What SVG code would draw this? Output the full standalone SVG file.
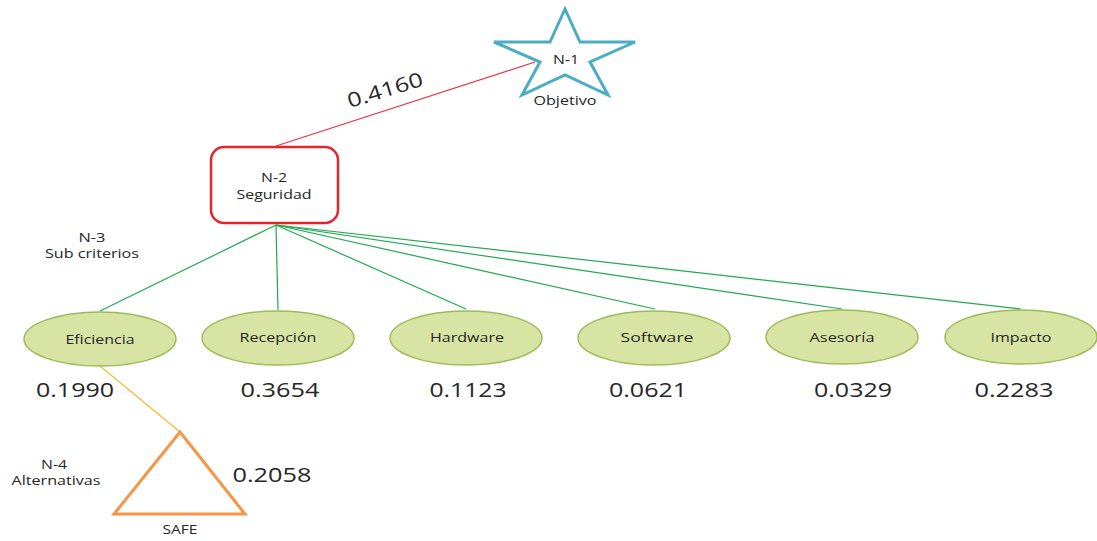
<svg xmlns="http://www.w3.org/2000/svg" width="1097" height="541" viewBox="0 0 1097 541">
<style>
text{font-family:"Open Sans","Liberation Sans",sans-serif;fill:#262626;text-anchor:middle}
.s{font-size:13px}
.w{font-size:20px}
.ell{fill:#d8e4a3;stroke:#9bbb59;stroke-width:1.5}
.g{stroke:#1faa50;stroke-width:1.2;fill:none}
</style>
<rect width="1097" height="541" fill="#fff"/>
<g id="connectors">
<line x1="535" y1="62" x2="276" y2="146" stroke="#f0303a" stroke-width="1.2"/>
<line class="g" x1="276" y1="225" x2="100" y2="311"/>
<line class="g" x1="276" y1="225" x2="278" y2="310"/>
<line class="g" x1="276" y1="225" x2="466" y2="309"/>
<line class="g" x1="276" y1="225" x2="655" y2="309"/>
<line class="g" x1="276" y1="225" x2="842" y2="309"/>
<line class="g" x1="276" y1="225" x2="1021" y2="309"/>
<line x1="100" y1="366" x2="180" y2="432" stroke="#f7b733" stroke-width="1.2"/>
</g>
<g id="n1">
<polygon points="565,9 580,42 635,42 590,62 608,95 565,75 522,95 540,62 494,42 550,42" fill="#fff" stroke="#4bacc6" stroke-width="3" stroke-linejoin="miter"/>
<text class="s" x="566" y="64" textLength="26" lengthAdjust="spacingAndGlyphs">N-1</text>
<text class="s" x="565" y="105" textLength="63" lengthAdjust="spacingAndGlyphs">Objetivo</text>
</g>
<text class="w" x="385" y="97" transform="rotate(-17 385 90)" textLength="78" lengthAdjust="spacingAndGlyphs">0.4160</text>
<g id="n2">
<rect x="211" y="147" width="127" height="76" rx="13" fill="#fff" stroke="#e5252e" stroke-width="2.5"/>
<text class="s" x="274" y="182" textLength="26" lengthAdjust="spacingAndGlyphs">N-2</text>
<text class="s" x="274" y="199" textLength="75" lengthAdjust="spacingAndGlyphs">Seguridad</text>
</g>
<g id="n3label">
<text class="s" x="92" y="242" textLength="27" lengthAdjust="spacingAndGlyphs">N-3</text>
<text class="s" x="92" y="258" textLength="94" lengthAdjust="spacingAndGlyphs">Sub criterios</text>
</g>
<g id="eficiencia">
<ellipse class="ell" cx="100" cy="339" rx="76" ry="27"/>
<text class="s" x="100" y="344" textLength="69" lengthAdjust="spacingAndGlyphs">Eficiencia</text>
<text class="w" x="75" y="397" textLength="78" lengthAdjust="spacingAndGlyphs">0.1990</text>
</g>
<g id="recepcion">
<ellipse class="ell" cx="278" cy="338" rx="76" ry="27"/>
<text class="s" x="278" y="342" textLength="77" lengthAdjust="spacingAndGlyphs">Recepción</text>
<text class="w" x="280" y="397" textLength="79" lengthAdjust="spacingAndGlyphs">0.3654</text>
</g>
<g id="hardware">
<ellipse class="ell" cx="466" cy="338" rx="76" ry="27"/>
<text class="s" x="467" y="342" textLength="74" lengthAdjust="spacingAndGlyphs">Hardware</text>
<text class="w" x="468" y="397" textLength="77" lengthAdjust="spacingAndGlyphs">0.1123</text>
</g>
<g id="software">
<ellipse class="ell" cx="654" cy="338" rx="76" ry="27"/>
<text class="s" x="657" y="342" textLength="73" lengthAdjust="spacingAndGlyphs">Software</text>
<text class="w" x="648" y="397" textLength="78" lengthAdjust="spacingAndGlyphs">0.0621</text>
</g>
<g id="asesoria">
<ellipse class="ell" cx="842" cy="337" rx="76" ry="27"/>
<text class="s" x="842" y="342" textLength="65" lengthAdjust="spacingAndGlyphs">Asesoría</text>
<text class="w" x="853" y="397" textLength="78" lengthAdjust="spacingAndGlyphs">0.0329</text>
</g>
<g id="impacto">
<ellipse class="ell" cx="1021" cy="337" rx="76" ry="27"/>
<text class="s" x="1021" y="342" textLength="61" lengthAdjust="spacingAndGlyphs">Impacto</text>
<text class="w" x="1014" y="397" textLength="79" lengthAdjust="spacingAndGlyphs">0.2283</text>
</g>
<g id="n4label">
<text class="s" x="54" y="469" textLength="26" lengthAdjust="spacingAndGlyphs">N-4</text>
<text class="s" x="56" y="485" textLength="89" lengthAdjust="spacingAndGlyphs">Alternativas</text>
</g>
<g id="safe">
<polygon points="180,432 245,514 114,514" fill="#fff" stroke="#f79646" stroke-width="3"/>
<text class="s" x="180" y="534" textLength="35" lengthAdjust="spacingAndGlyphs">SAFE</text>
<text class="w" x="272" y="482" textLength="79" lengthAdjust="spacingAndGlyphs">0.2058</text>
</g>
</svg>
